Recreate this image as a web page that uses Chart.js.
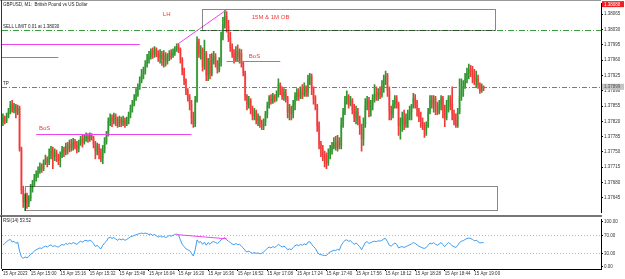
<!DOCTYPE html>
<html>
<head>
<meta charset="utf-8">
<script src="https://cdn.jsdelivr.net/npm/chart.js@4.4.0/dist/chart.umd.min.js"></script>
<style>
  html, body { margin: 0; padding: 0; background: #fff; overflow: hidden; }
  #wrap { position: relative; width: 625px; height: 279px; }
  #main { position: absolute; left: 0; top: 0; }
  #rsi { position: absolute; left: 0; top: 216px; }
</style>
</head>
<body>
<div id="wrap">
  <canvas id="main" width="625" height="216"></canvas>
  <canvas id="rsi" width="625" height="63"></canvas>
</div>
<script>
// GBPUSD M1, 15 Apr, 14:45 .. 19:05
const open = [
  1.37819,1.37828,1.37821,1.37832,1.37841,1.37859,1.37846,1.37855,1.37841,1.37850,
  1.37757,1.37663,1.37636,1.37650,1.37632,1.37645,1.37667,1.37676,1.37690,1.37699,
  1.37707,1.37716,1.37712,1.37725,1.37734,1.37728,1.37743,1.37752,1.37739,1.37748,
  1.37739,1.37730,1.37743,1.37757,1.37750,1.37763,1.37757,1.37768,1.37761,1.37772,
  1.37765,1.37757,1.37770,1.37779,1.37772,1.37781,1.37786,1.37779,1.37788,1.37781,
  1.37768,1.37752,1.37761,1.37745,1.37734,1.37757,1.37774,1.37790,1.37819,1.37828,
  1.37821,1.37832,1.37823,1.37812,1.37826,1.37817,1.37823,1.37814,1.37821,1.37835,
  1.37850,1.37859,1.37872,1.37881,1.37899,1.37913,1.37926,1.37935,1.37951,1.37962,
  1.37968,1.37980,1.37973,1.37984,1.37975,1.37966,1.37975,1.37962,1.37971,1.37957,
  1.37966,1.37975,1.37968,1.37977,1.37984,1.37991,1.37984,1.37962,1.37935,1.37913,
  1.37890,1.37875,1.37859,1.37828,1.37814,1.37868,1.38002,1.37975,1.37984,1.37946,
  1.37975,1.37926,1.37957,1.37930,1.37962,1.37968,1.37953,1.37939,1.37957,1.38013,
  1.38042,1.38060,1.38037,1.38011,1.37988,1.37975,1.37962,1.37980,1.37966,1.37975,
  1.37953,1.37930,1.37877,1.37859,1.37868,1.37846,1.37832,1.37841,1.37823,1.37828,
  1.37814,1.37808,1.37819,1.37837,1.37855,1.37872,1.37866,1.37877,1.37870,1.37881,
  1.37904,1.37890,1.37877,1.37886,1.37872,1.37841,1.37850,1.37837,1.37859,1.37877,
  1.37886,1.37877,1.37890,1.37881,1.37895,1.37886,1.37917,1.37922,1.37895,1.37872,
  1.37855,1.37810,1.37768,1.37757,1.37743,1.37734,1.37725,1.37743,1.37752,1.37761,
  1.37770,1.37761,1.37774,1.37765,1.37812,1.37841,1.37868,1.37877,1.37859,1.37868,
  1.37846,1.37828,1.37841,1.37823,1.37806,1.37779,1.37814,1.37855,1.37868,1.37846,
  1.37855,1.37872,1.37881,1.37877,1.37886,1.37881,1.37899,1.37917,1.37926,1.37890,
  1.37846,1.37837,1.37859,1.37872,1.37859,1.37810,1.37819,1.37828,1.37814,1.37823,
  1.37832,1.37841,1.37855,1.37872,1.37864,1.37846,1.37828,1.37819,1.37810,1.37801,
  1.37810,1.37841,1.37868,1.37859,1.37872,1.37850,1.37841,1.37859,1.37872,1.37846,
  1.37828,1.37855,1.37872,1.37859,1.37837,1.37823,1.37810,1.37841,1.37877,1.37890,
  1.37899,1.37917,1.37930,1.37939,1.37935,1.37926,1.37913,1.37917,1.37904,1.37890,
  1.37899
];
const high = [
  1.37837,1.37832,1.37839,1.37850,1.37866,1.37868,1.37861,1.37859,1.37857,1.37855,
  1.37761,1.37672,1.37654,1.37656,1.37650,1.37676,1.37685,1.37699,1.37707,1.37716,
  1.37725,1.37723,1.37732,1.37743,1.37739,1.37757,1.37763,1.37761,1.37757,1.37754,
  1.37745,1.37750,1.37763,1.37761,1.37770,1.37772,1.37777,1.37779,1.37781,1.37779,
  1.37774,1.37777,1.37786,1.37788,1.37790,1.37794,1.37792,1.37794,1.37792,1.37786,
  1.37774,1.37770,1.37768,1.37757,1.37765,1.37783,1.37797,1.37828,1.37837,1.37835,
  1.37839,1.37837,1.37830,1.37832,1.37830,1.37832,1.37828,1.37830,1.37841,1.37857,
  1.37868,1.37881,1.37895,1.37906,1.37922,1.37939,1.37944,1.37959,1.37973,1.37980,
  1.37986,1.37988,1.37991,1.37988,1.37982,1.37984,1.37980,1.37982,1.37977,1.37975,
  1.37982,1.37984,1.37986,1.37991,1.37997,1.37997,1.37988,1.37966,1.37942,1.37917,
  1.37895,1.37881,1.37868,1.37841,1.37877,1.38013,1.38008,1.37993,1.37988,1.38006,
  1.37980,1.37964,1.37973,1.37975,1.37980,1.37975,1.37959,1.37966,1.38024,1.38058,
  1.38073,1.38071,1.38051,1.38024,1.37997,1.37984,1.37991,1.37995,1.37986,1.37984,
  1.37957,1.37935,1.37881,1.37877,1.37872,1.37855,1.37850,1.37846,1.37837,1.37832,
  1.37823,1.37826,1.37843,1.37864,1.37879,1.37881,1.37884,1.37881,1.37890,1.37917,
  1.37908,1.37899,1.37895,1.37893,1.37877,1.37859,1.37855,1.37868,1.37886,1.37895,
  1.37895,1.37899,1.37904,1.37908,1.37901,1.37926,1.37930,1.37928,1.37899,1.37879,
  1.37859,1.37819,1.37774,1.37765,1.37752,1.37748,1.37757,1.37765,1.37772,1.37783,
  1.37786,1.37788,1.37783,1.37828,1.37850,1.37877,1.37890,1.37881,1.37877,1.37872,
  1.37859,1.37855,1.37850,1.37832,1.37814,1.37828,1.37872,1.37877,1.37875,1.37868,
  1.37881,1.37904,1.37899,1.37895,1.37899,1.37913,1.37926,1.37935,1.37930,1.37899,
  1.37855,1.37868,1.37879,1.37879,1.37864,1.37828,1.37841,1.37846,1.37837,1.37846,
  1.37855,1.37859,1.37884,1.37881,1.37868,1.37850,1.37841,1.37828,1.37817,1.37819,
  1.37850,1.37879,1.37879,1.37879,1.37877,1.37864,1.37868,1.37879,1.37877,1.37857,
  1.37868,1.37879,1.37879,1.37899,1.37846,1.37837,1.37850,1.37917,1.37917,1.37913,
  1.37930,1.37942,1.37951,1.37948,1.37946,1.37939,1.37935,1.37926,1.37908,1.37906,
  1.37901
];
const low = [
  1.37810,1.37814,1.37817,1.37828,1.37837,1.37841,1.37839,1.37828,1.37835,1.37752,
  1.37654,1.37623,1.37616,1.37621,1.37625,1.37638,1.37658,1.37672,1.37683,1.37692,
  1.37701,1.37703,1.37707,1.37721,1.37716,1.37721,1.37734,1.37712,1.37730,1.37728,
  1.37721,1.37716,1.37737,1.37739,1.37743,1.37745,1.37750,1.37752,1.37754,1.37757,
  1.37748,1.37750,1.37765,1.37761,1.37768,1.37774,1.37772,1.37774,1.37777,1.37759,
  1.37734,1.37743,1.37734,1.37728,1.37723,1.37748,1.37768,1.37786,1.37810,1.37808,
  1.37814,1.37810,1.37806,1.37808,1.37808,1.37810,1.37806,1.37810,1.37814,1.37828,
  1.37841,1.37855,1.37868,1.37877,1.37893,1.37908,1.37917,1.37928,1.37944,1.37953,
  1.37962,1.37964,1.37966,1.37968,1.37957,1.37953,1.37948,1.37944,1.37946,1.37951,
  1.37959,1.37962,1.37966,1.37971,1.37980,1.37977,1.37953,1.37926,1.37904,1.37881,
  1.37866,1.37846,1.37814,1.37806,1.37808,1.37864,1.37966,1.37962,1.37935,1.37939,
  1.37913,1.37913,1.37917,1.37924,1.37951,1.37944,1.37930,1.37933,1.37946,1.38006,
  1.38033,1.38024,1.38002,1.37980,1.37966,1.37953,1.37957,1.37957,1.37953,1.37944,
  1.37924,1.37868,1.37846,1.37850,1.37837,1.37823,1.37823,1.37814,1.37810,1.37806,
  1.37801,1.37801,1.37810,1.37828,1.37850,1.37859,1.37861,1.37864,1.37866,1.37875,
  1.37881,1.37870,1.37868,1.37864,1.37828,1.37823,1.37823,1.37828,1.37846,1.37868,
  1.37868,1.37872,1.37872,1.37877,1.37877,1.37877,1.37904,1.37881,1.37859,1.37846,
  1.37797,1.37757,1.37739,1.37730,1.37716,1.37712,1.37719,1.37734,1.37745,1.37757,
  1.37754,1.37752,1.37757,1.37757,1.37806,1.37835,1.37859,1.37850,1.37855,1.37837,
  1.37819,1.37814,1.37812,1.37790,1.37752,1.37765,1.37806,1.37846,1.37830,1.37832,
  1.37846,1.37864,1.37868,1.37868,1.37872,1.37875,1.37886,1.37904,1.37877,1.37823,
  1.37823,1.37828,1.37850,1.37850,1.37788,1.37779,1.37797,1.37801,1.37806,1.37806,
  1.37823,1.37823,1.37850,1.37850,1.37832,1.37819,1.37806,1.37801,1.37783,1.37788,
  1.37806,1.37837,1.37850,1.37841,1.37835,1.37835,1.37837,1.37846,1.37828,1.37808,
  1.37823,1.37841,1.37846,1.37823,1.37812,1.37806,1.37806,1.37837,1.37868,1.37877,
  1.37895,1.37908,1.37917,1.37922,1.37908,1.37904,1.37899,1.37895,1.37884,1.37886,
  1.37890
];
const close = [
  1.37828,1.37821,1.37832,1.37841,1.37859,1.37846,1.37855,1.37841,1.37850,1.37757,
  1.37663,1.37636,1.37650,1.37632,1.37645,1.37667,1.37676,1.37690,1.37699,1.37707,
  1.37716,1.37712,1.37725,1.37734,1.37728,1.37743,1.37752,1.37739,1.37748,1.37739,
  1.37730,1.37743,1.37757,1.37750,1.37763,1.37757,1.37768,1.37761,1.37772,1.37765,
  1.37757,1.37770,1.37779,1.37772,1.37781,1.37786,1.37779,1.37788,1.37781,1.37768,
  1.37752,1.37761,1.37745,1.37734,1.37757,1.37774,1.37790,1.37819,1.37828,1.37821,
  1.37832,1.37823,1.37812,1.37826,1.37817,1.37823,1.37814,1.37821,1.37835,1.37850,
  1.37859,1.37872,1.37881,1.37899,1.37913,1.37926,1.37935,1.37951,1.37962,1.37968,
  1.37980,1.37973,1.37984,1.37975,1.37966,1.37975,1.37962,1.37971,1.37957,1.37966,
  1.37975,1.37968,1.37977,1.37984,1.37991,1.37984,1.37962,1.37935,1.37913,1.37890,
  1.37875,1.37859,1.37828,1.37814,1.37868,1.38002,1.37975,1.37984,1.37946,1.37975,
  1.37926,1.37957,1.37930,1.37962,1.37968,1.37953,1.37939,1.37957,1.38013,1.38042,
  1.38060,1.38037,1.38011,1.37988,1.37975,1.37962,1.37980,1.37966,1.37975,1.37953,
  1.37930,1.37877,1.37859,1.37868,1.37846,1.37832,1.37841,1.37823,1.37828,1.37814,
  1.37808,1.37819,1.37837,1.37855,1.37872,1.37866,1.37877,1.37870,1.37881,1.37904,
  1.37890,1.37877,1.37886,1.37872,1.37841,1.37850,1.37837,1.37859,1.37877,1.37886,
  1.37877,1.37890,1.37881,1.37895,1.37886,1.37917,1.37922,1.37895,1.37872,1.37855,
  1.37810,1.37768,1.37757,1.37743,1.37734,1.37725,1.37743,1.37752,1.37761,1.37770,
  1.37761,1.37774,1.37765,1.37812,1.37841,1.37868,1.37877,1.37859,1.37868,1.37846,
  1.37828,1.37841,1.37823,1.37806,1.37779,1.37814,1.37855,1.37868,1.37846,1.37855,
  1.37872,1.37881,1.37877,1.37886,1.37881,1.37899,1.37917,1.37926,1.37890,1.37846,
  1.37837,1.37859,1.37872,1.37859,1.37810,1.37819,1.37828,1.37814,1.37823,1.37832,
  1.37841,1.37855,1.37872,1.37864,1.37846,1.37828,1.37819,1.37810,1.37801,1.37810,
  1.37841,1.37868,1.37859,1.37872,1.37850,1.37841,1.37859,1.37872,1.37846,1.37828,
  1.37855,1.37872,1.37859,1.37837,1.37823,1.37810,1.37841,1.37877,1.37890,1.37899,
  1.37917,1.37930,1.37939,1.37935,1.37926,1.37913,1.37917,1.37904,1.37890,1.37899,
  1.37895
];
const rsi = [
  48,52,56,59,61,55,57,52,55,35,
  22,19,22,20,23,28,31,35,38,40,
  42,41,44,46,44,47,49,45,47,45,
  44,47,50,48,52,50,53,51,54,52,
  50,54,57,55,58,59,57,59,57,52,
  45,48,43,40,48,53,57,64,66,63,
  65,62,59,62,60,62,59,61,64,67,
  68,70,71,73,74,75,74,75,74,72,
  73,70,72,69,66,69,66,68,65,67,
  70,68,70,72,73,70,60,50,45,40,
  38,36,30,24,38,60,54,56,50,55,
  48,54,50,55,56,54,52,55,60,63,
  65,60,57,54,51,49,52,49,50,46,
  42,36,33,35,32,30,32,30,31,29,
  30,33,37,41,44,42,45,43,46,50,
  47,44,46,43,38,40,38,43,47,49,
  47,50,48,51,49,55,56,50,45,41,
  33,28,27,26,25,25,30,33,35,37,
  36,39,37,48,54,59,60,57,58,54,
  50,53,49,45,38,46,54,56,52,54,
  56,57,56,58,57,59,62,63,56,48,
  46,50,53,50,42,44,45,43,45,47,
  49,51,54,52,49,46,44,42,41,43,
  48,53,51,54,50,48,51,54,49,45,
  50,54,51,47,45,43,48,54,57,58,
  61,63,64,63,61,58,59,56,53,54,
  53.52
];

const priceTicks = [1.37645, 1.37680, 1.37715, 1.37750, 1.37785, 1.37820, 1.37855,
                    1.37890, 1.37925, 1.37960, 1.37995, 1.38030, 1.38065];
const rsiTicks = [0, 30, 70, 100];
const timeTicks = ['15 Apr 2023', '15 Apr 15:00', '15 Apr 15:16', '15 Apr 15:32', '15 Apr 15:48',
                   '15 Apr 16:04', '15 Apr 16:20', '15 Apr 16:36', '15 Apr 16:52', '15 Apr 17:08',
                   '15 Apr 17:24', '15 Apr 17:40', '15 Apr 17:56', '15 Apr 18:12', '15 Apr 18:28',
                   '15 Apr 18:44', '15 Apr 19:00'];
const timeTickBars = [0, 15, 31, 47, 63, 79, 95, 111, 127, 143, 159, 175, 191, 207, 223, 239, 255];

// drawn objects (bar index, price)
const sellLimit = 1.38030;
const takeProfit = 1.37899;
const bidPrice = 1.37899;
const topLevel = 1.38088;
const pinkLevels = [1.37997, 1.37966];
const pinkLevelEnds = [74, 30];
const bosLevels = [1.37792, 1.37957];
const bosFrom = [18, 121];
const bosTo = [102, 150];
const lhLine = [[94, 1.37995], [121, 1.38075]];
const obZone = [107.6, 266, 1.38076, 1.38030];
const demandZone = [12, 267, 1.37672, 1.37618];
const rsiLine = [[94, 71.7], [121, 62.3]];

// 324 one-minute slots on the axis, data fills the first 261
const slots = 324;
const minutes = [];
for (let i = 0; i < slots; i++) {
    const m = 14 * 60 + 45 + i;
    minutes.push(String(Math.floor(m / 60)).padStart(2, '0') + ':' + String(m % 60).padStart(2, '0'));
}

const FONT = "'Liberation Sans', Arial, sans-serif";
const axisFont = { family: FONT, size: 4.5 };
const MAGENTA = '#ee44ee';
const LABEL_RED = '#ef3a3a';

function hLine(ctx, x1, x2, y) {
    const py = Math.round(y) + 0.5;
    ctx.beginPath();
    ctx.moveTo(x1, py);
    ctx.lineTo(x2, py);
    ctx.stroke();
}

function priceBox(ctx, x, y, text, bg, fg) {
    ctx.fillStyle = bg;
    ctx.fillRect(x + 1, y - 3, 22, 6);
    ctx.fillStyle = fg;
    ctx.font = '4.5px ' + FONT;
    ctx.textBaseline = 'middle';
    ctx.textAlign = 'left';
    ctx.fillText(text, x + 3, y + 0.3);
}

const mainMarks = {
    id: 'mainMarks',
    beforeDatasetsDraw(chart) {
        const {ctx, chartArea: a, scales: {y}} = chart;
        ctx.save();
        ctx.lineWidth = 1;
        ctx.setLineDash([6, 2, 1, 2]);
        ctx.strokeStyle = '#3f9b3f';
        hLine(ctx, a.left, a.right, y.getPixelForValue(sellLimit));
        ctx.restore();
    },
    afterDatasetsDraw(chart) {
        const {ctx, chartArea: a, scales: {x, y}} = chart;
        ctx.save();
        ctx.lineWidth = 1;
        ctx.setLineDash([5, 2, 1, 2]);
        ctx.strokeStyle = '#ff4a10';
        hLine(ctx, a.left, a.right, y.getPixelForValue(takeProfit));
        ctx.setLineDash([]);

        ctx.strokeStyle = MAGENTA;
        pinkLevels.forEach(function (p, i) {
            hLine(ctx, a.left, x.getPixelForValue(pinkLevelEnds[i]), y.getPixelForValue(p));
        });
        bosLevels.forEach(function (p, i) {
            hLine(ctx, x.getPixelForValue(bosFrom[i]), x.getPixelForValue(bosTo[i]), y.getPixelForValue(p));
        });
        ctx.beginPath();
        ctx.moveTo(x.getPixelForValue(lhLine[0][0]), y.getPixelForValue(lhLine[0][1]));
        ctx.lineTo(x.getPixelForValue(lhLine[1][0]), y.getPixelForValue(lhLine[1][1]));
        ctx.stroke();

        ctx.strokeStyle = '#111';
        ctx.setLineDash([1, 1]);
        [obZone, demandZone].forEach(function (z) {
            const x1 = Math.round(x.getPixelForValue(z[0])) + 0.5;
            const x2 = Math.round(x.getPixelForValue(z[1])) + 0.5;
            const y1 = Math.round(y.getPixelForValue(z[2])) + 0.5;
            const y2 = Math.round(y.getPixelForValue(z[3])) + 0.5;
            ctx.strokeRect(x1, y1, x2 - x1, y2 - y1);
        });
        ctx.setLineDash([]);

        ctx.fillStyle = LABEL_RED;
        ctx.font = '6px ' + FONT;
        ctx.textBaseline = 'middle';
        ctx.textAlign = 'left';
        ctx.fillText('LH', x.getPixelForValue(86.5), y.getPixelForValue(1.38064));
        ctx.fillText('15M & 1M OB', x.getPixelForValue(134.6), y.getPixelForValue(1.38058));
        ctx.fillText('BoS', x.getPixelForValue(133), y.getPixelForValue(1.37968));
        ctx.fillText('BoS', x.getPixelForValue(19.5), y.getPixelForValue(1.37803));

        ctx.fillStyle = '#222';
        ctx.font = '4.5px ' + FONT;
        ctx.fillText('GBPUSD, M1:  British Pound vs US Dollar', 3, 5);
        ctx.fillText('SELL LIMIT 0.01 at 1.38030', 3, y.getPixelForValue(sellLimit) - 3);
        ctx.fillText('TP', 3, y.getPixelForValue(takeProfit) - 3);
        ctx.restore();
    },
    afterDraw(chart) {
        const {ctx, chartArea: a, scales: {y}} = chart;
        ctx.save();
        ctx.fillStyle = '#999';
        ctx.fillRect(0, 0, a.right, 1);
        ctx.fillStyle = '#333';
        ctx.fillRect(1, 0, 1, chart.height);
        ctx.fillStyle = '#777';
        ctx.fillRect(0, 215, a.right + 1, 1);
        priceBox(ctx, a.right, y.getPixelForValue(topLevel), topLevel.toFixed(5), '#f02020', '#fff');
        priceBox(ctx, a.right, y.getPixelForValue(bidPrice), bidPrice.toFixed(5), '#c4c4c4', '#555');
        ctx.restore();
    }
};

const wickColors = close.map((c, i) => c > open[i] ? '#2f952f' : '#f23a3a');
const bodyColors = close.map((c, i) => c > open[i] ? '#b4deb4' : '#fbb8b8');

new Chart(document.getElementById('main'), {
    type: 'bar',
    data: {
        labels: minutes,
        datasets: [
            {
                data: low.map((l, i) => [l, high[i]]),
                backgroundColor: wickColors,
                barThickness: 1,
                grouped: false,
                order: 1
            },
            {
                data: open.map((o, i) => [o, close[i]]),
                backgroundColor: bodyColors,
                barThickness: 1.6,
                grouped: false,
                order: 2
            }
        ]
    },
    options: {
        responsive: false,
        animation: false,
        layout: {padding: {left: 2, top: 1, right: 0, bottom: 1}},
        plugins: {legend: {display: false}, tooltip: {enabled: false}},
        scales: {
            x: {display: false},
            y: {
                position: 'right',
                min: 1.37612,
                max: 1.38089,
                afterFit: function (scale) { scale.width = 24; },
                afterBuildTicks: function (scale) {
                    scale.ticks = priceTicks.map(v => ({value: v}));
                },
                ticks: {
                    font: axisFont,
                    color: '#333',
                    padding: 1,
                    callback: v => v.toFixed(5)
                },
                grid: {drawOnChartArea: false, tickLength: 2, color: '#000'},
                border: {color: '#000'}
            }
        }
    },
    plugins: [mainMarks]
});

const rsiMarks = {
    id: 'rsiMarks',
    beforeDatasetsDraw(chart) {
        const {ctx, chartArea: a, scales: {y}} = chart;
        ctx.save();
        ctx.strokeStyle = '#b8b8b8';
        ctx.lineWidth = 1;
        ctx.setLineDash([1, 2]);
        hLine(ctx, a.left, a.right, y.getPixelForValue(70));
        hLine(ctx, a.left, a.right, y.getPixelForValue(30));
        ctx.restore();
    },
    afterDatasetsDraw(chart) {
        const {ctx, chartArea: a, scales: {x, y}} = chart;
        ctx.save();
        ctx.strokeStyle = MAGENTA;
        ctx.lineWidth = 1;
        ctx.beginPath();
        ctx.moveTo(x.getPixelForValue(rsiLine[0][0]), y.getPixelForValue(rsiLine[0][1]));
        ctx.lineTo(x.getPixelForValue(rsiLine[1][0]), y.getPixelForValue(rsiLine[1][1]));
        ctx.stroke();

        ctx.fillStyle = '#222';
        ctx.font = '4.5px ' + FONT;
        ctx.textBaseline = 'middle';
        ctx.fillText('RSI(14) 53.52', 3, 5);

        ctx.fillStyle = '#777';
        ctx.fillRect(0, 0, a.right + 1, 1);
        ctx.fillStyle = '#333';
        ctx.fillRect(1, 0, 1, a.bottom);
        ctx.restore();
    }
};

new Chart(document.getElementById('rsi'), {
    type: 'line',
    data: {
        labels: minutes,
        datasets: [{
            data: rsi,
            borderColor: '#3d9cf2',
            borderWidth: 1,
            pointRadius: 0,
            tension: 0
        }]
    },
    options: {
        responsive: false,
        animation: false,
        layout: {padding: {left: 2, top: 1, right: 0, bottom: 0}},
        plugins: {legend: {display: false}, tooltip: {enabled: false}},
        scales: {
            x: {
                offset: true,
                afterFit: function (scale) { scale.height = 10; },
                afterBuildTicks: function (scale) {
                    scale.ticks = timeTickBars.map(v => ({value: v}));
                },
                ticks: {
                    autoSkip: false,
                    maxRotation: 0,
                    align: 'start',
                    font: axisFont,
                    color: '#333',
                    padding: 0,
                    callback: (v, i) => timeTicks[i]
                },
                grid: {drawOnChartArea: false, tickLength: 2, color: '#000', offset: false},
                border: {color: '#000'}
            },
            y: {
                position: 'right',
                min: -4.9,
                max: 104.9,
                afterFit: function (scale) { scale.width = 24; },
                afterBuildTicks: function (scale) {
                    scale.ticks = rsiTicks.map(v => ({value: v}));
                },
                ticks: {
                    font: axisFont,
                    color: '#333',
                    padding: 1,
                    callback: v => v.toFixed(2)
                },
                grid: {drawOnChartArea: false, tickLength: 2, color: '#000'},
                border: {color: '#000'}
            }
        }
    },
    plugins: [rsiMarks]
});
</script>
</body>
</html>
